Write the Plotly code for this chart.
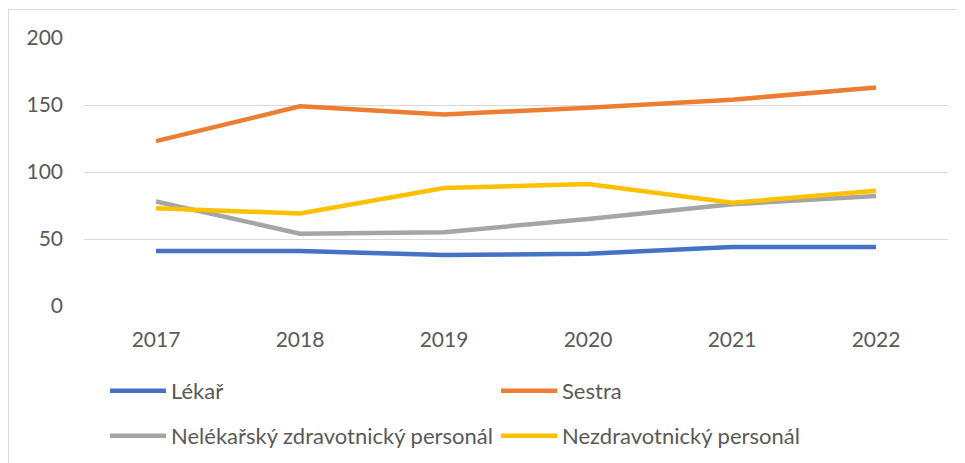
import plotly.graph_objects as go

years = ["2017", "2018", "2019", "2020", "2021", "2022"]
lekar = [41, 41, 38, 39, 44, 44]
sestra = [123, 149, 143, 148, 154, 163]
nelekarsky = [78, 54, 55, 65, 76, 82]
nezdravotnicky = [73, 69, 88, 91, 77, 86]

series = [
    ("Lékař", lekar, "#4472C4", "legend"),
    ("Sestra", sestra, "#ED7D31", "legend"),
    ("Nelékařský zdravotnický personál", nelekarsky, "#A5A5A5", "legend2"),
    ("Nezdravotnický personál", nezdravotnicky, "#FFC000", "legend2"),
]

FONT = "Lato"
TXT = "#595959"

fig = go.Figure()
for name, vals, color, lg in series:
    fig.add_trace(go.Scatter(x=years, y=vals, name=name, mode="lines",
                             line=dict(color=color, width=4.5), legend=lg))

OFF = 8  # browser body margin
W, H = 965 - OFF, 463 - OFF
# target plot area in screenshot pixels
PL, PR, PT, PB = 84, 948, 38, 306
L, R, T, B = PL - OFF, W - (PR - OFF), PT - OFF, H - (PB - OFF)
pw, ph = W - L - R, H - T - B

def px_x(p):
    return (p - OFF - L) / pw

def px_y(p):
    return (H - B - (p - OFF)) / ph

legend_common = dict(
    orientation="h", xanchor="left", yanchor="middle",
    font=dict(family=FONT, size=22, color=TXT),
    itemwidth=56, entrywidth=320, entrywidthmode="pixels",
    bgcolor="rgba(0,0,0,0)", traceorder="normal",
)

fig.update_layout(
    width=W, height=H,
    margin=dict(l=L, r=R, t=T, b=B, autoexpand=False),
    paper_bgcolor="white", plot_bgcolor="white",
    font=dict(family=FONT, size=21, color=TXT),
    showlegend=True,
    legend=dict(x=px_x(105), y=px_y(391), **legend_common),
    legend2=dict(x=px_x(105), y=px_y(436), **legend_common),
    xaxis=dict(showgrid=False, showline=False, zeroline=False,
               range=[-0.5, 5.5], automargin=False,
               ticks="", ticklabelstandoff=19,
               tickfont=dict(family=FONT, size=21, color=TXT)),
    yaxis=dict(range=[0, 200], tickvals=[0, 50, 100, 150, 200],
               showgrid=True, gridcolor="#D9D9D9", gridwidth=1.3,
               zeroline=False, showline=False, ticks="", automargin=False,
               ticklabelstandoff=20,
               tickfont=dict(family=FONT, size=21, color=TXT)),
    shapes=[dict(type="rect", xref="paper", yref="paper",
                 x0=px_x(8.5), x1=px_x(975), y0=px_y(475), y1=px_y(9.5),
                 line=dict(color="#D9D9D9", width=1), layer="below")],
)

fig.write_html("out.html")
